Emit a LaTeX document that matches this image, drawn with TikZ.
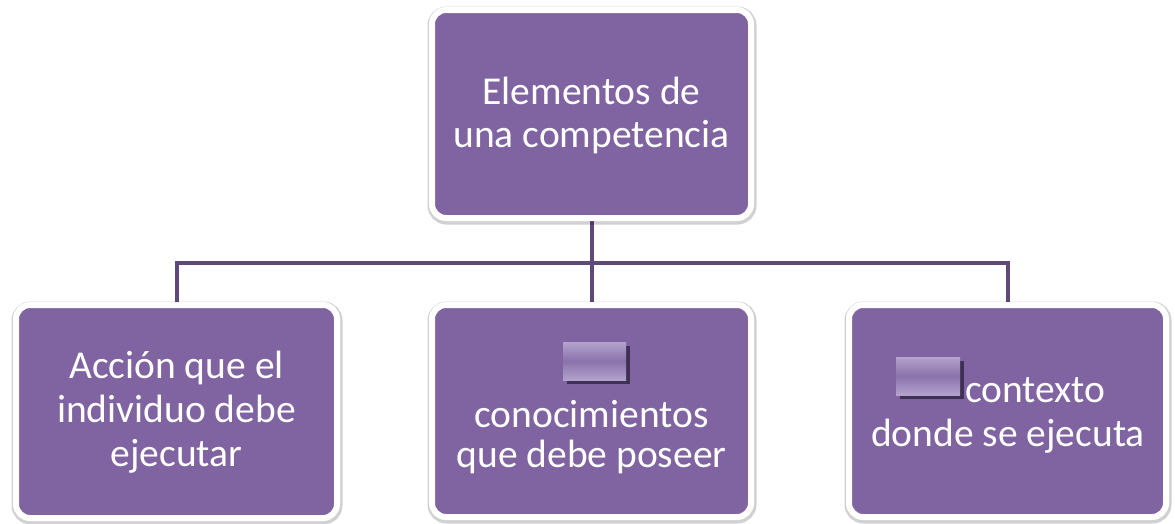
\documentclass[tikz,border=0pt]{standalone}
\usepackage{fontspec}
\setmainfont{Carlito}
\usetikzlibrary{backgrounds}
\definecolor{boxpurple}{HTML}{8064A2}
\definecolor{linepurple}{HTML}{5F497A}
\definecolor{phlight}{HTML}{B3A3CC}
\definecolor{phmid}{HTML}{8A72AB}
\definecolor{phshadow}{HTML}{3F3156}
\tikzset{
  box/.style={rectangle, fill=boxpurple, draw=white, line width=6pt,
    rounded corners=14pt, inner sep=0pt,
    preaction={draw=black, draw opacity=0.18, line width=10pt,
      transform canvas={xshift=0.5pt, yshift=-1.5pt}}},
  conn/.style={draw=linepurple, line width=4pt},
  txt/.style={text=white, anchor=base, inner sep=0pt,
    font=\fontsize{39.5}{44}\selectfont},
  phshade/.style={top color=phlight, bottom color=phlight, middle color=phmid},
  phshad/.style={fill=phshadow, draw=none}
}
\begin{document}
\begin{tikzpicture}[x=1pt,y=-1pt]
\useasboundingbox (0,0) rectangle (1175,523);
% boxes
\node[box, minimum width=319pt, minimum height=208pt] (top) at (591.5,114) {};
\node[box, minimum width=321pt, minimum height=213pt] (left) at (176.5,411.5) {};
\node[box, minimum width=319pt, minimum height=212pt] (mid) at (591.5,411) {};
\node[box, minimum width=317pt, minimum height=212pt] (right) at (1007.5,411) {};
% connectors
\begin{pgfonlayer}{background}
\coordinate (j) at (591.5,263);
\draw[conn] (top.south) -- (j);
\draw[conn] (left.north) |- (j) -| (right.north);
\draw[conn] (j) -- (mid.north);
\end{pgfonlayer}
% top text
\node[txt] (t1) at (591.5,104) {Elementos de};
\node[txt] (t2) at (591.5,147) {una competencia};
% left text
\node[txt] (l1) at (176.5,378) {Acción que el};
\node[txt] (l2) at (176.5,422) {individuo debe};
\node[txt] (l3) at (176.5,466) {ejecutar};
% middle placeholder and text
\path[phshad] (567,346) rectangle (630,384);
\path[phshade] (563,342) rectangle (626,380);
\node[txt] (m1) at (591.5,427) {conocimientos};
\node[txt] (m2) at (591.5,467) {que debe poseer};
% right placeholder and text
\path[phshad] (900,361) rectangle (964,399);
\path[phshade] (896,357) rectangle (960,395);
\node[txt, anchor=base west] (r1) at (965,402) {contexto};
\node[txt] (r2) at (1008,446) {donde se ejecuta};
\end{tikzpicture}
\end{document}
